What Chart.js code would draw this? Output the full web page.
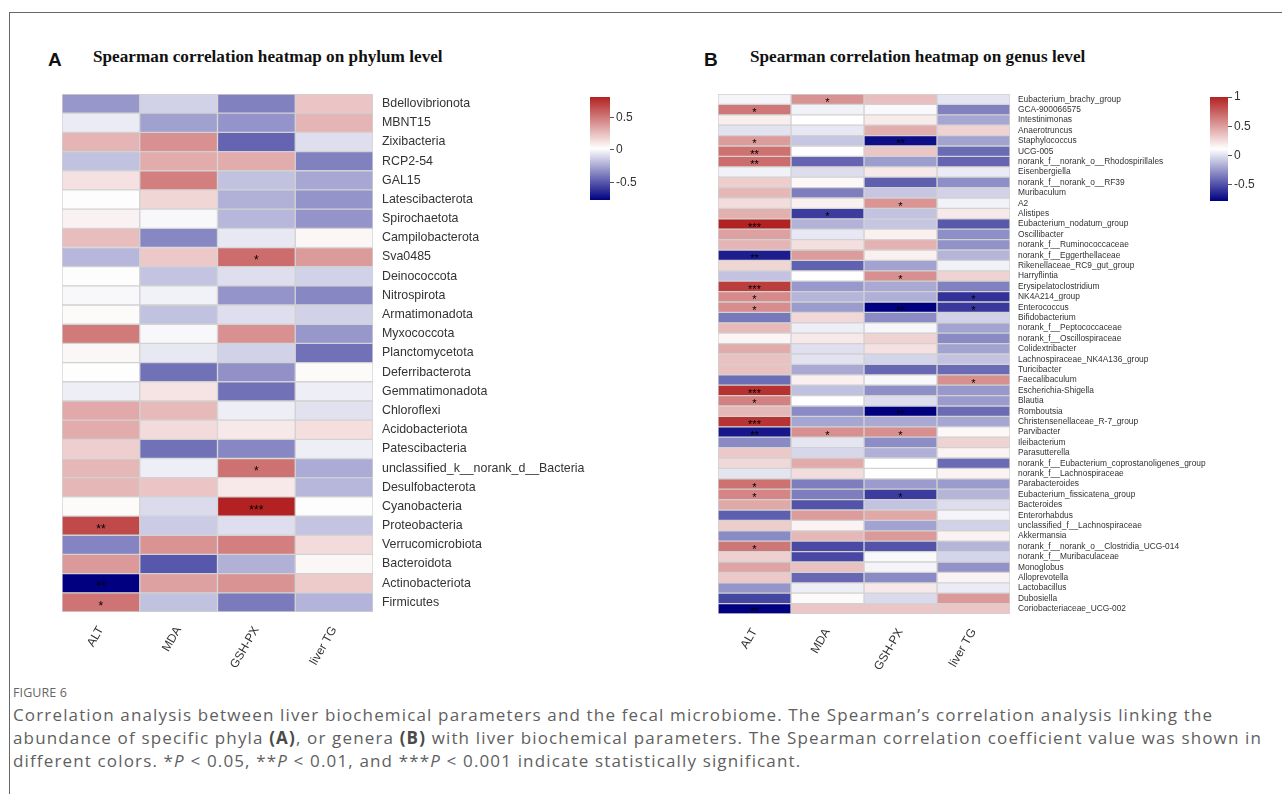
<!DOCTYPE html>
<html>
<head>
<meta charset="utf-8">
<script src="https://cdn.jsdelivr.net/npm/chart.js@4.4.1/dist/chart.umd.min.js"></script>
<style>
  body { margin: 0; background: #fff; }
  #page { position: relative; width: 1282px; height: 794px; overflow: hidden; background: #fff; }
  .frame { position: absolute; left: 9px; top: 12px; width: 1273px; height: 782px; border-top: 1px solid #666; border-left: 1px solid #666; }
  .box { position: absolute; }
  .letter { position: absolute; font: bold 19px "Liberation Sans", Arial, sans-serif; color: #111; }
  .title { position: absolute; font: bold 17.2px "Liberation Serif", "Times New Roman", serif; color: #111; }
  .figno { position: absolute; left: 13px; top: 684px; font: 12.5px "Open Sans", sans-serif; color: #666; letter-spacing: 0.1px; }
  .caption { position: absolute; left: 13px; top: 703px; width: 1265px; font: 17px/23px "Open Sans", sans-serif; color: #5f5f5f; letter-spacing: 1.15px; white-space: nowrap; }
  .caption b { color: #4a4a4a; }
</style>
</head>
<body>
<div id="page">
  <div class="frame"></div>

  <div class="letter" style="left:48px;top:49px">A</div>
  <div class="title" style="left:93px;top:47px">Spearman correlation heatmap on phylum level</div>
  <div class="letter" style="left:704px;top:49px">B</div>
  <div class="title" style="left:750px;top:47px">Spearman correlation heatmap on genus level</div>

  <div class="box" style="left:52px;top:74px;width:551px;height:608px"><canvas id="phylumChart"></canvas></div>
  <div class="box" style="left:590px;top:87px;width:60px;height:123px"><canvas id="phylumBar"></canvas></div>
  <div class="box" style="left:708px;top:74px;width:502px;height:610px"><canvas id="genusChart"></canvas></div>
  <div class="box" style="left:1210px;top:87px;width:58px;height:124px"><canvas id="genusBar"></canvas></div>

  <div class="figno">FIGURE 6</div>
  <div class="caption">Correlation analysis between liver biochemical parameters and the fecal microbiome. The Spearman’s correlation analysis linking the<br>abundance of specific phyla <b>(A)</b>, or genera <b>(B)</b> with liver biochemical parameters. The Spearman correlation coefficient value was shown in<br>different colors. *<i>P</i> &lt; 0.05, **<i>P</i> &lt; 0.01, and ***<i>P</i> &lt; 0.001 indicate statistically significant.</div>
</div>

<script>
const traitNames = ['ALT', 'MDA', 'GSH-PX', 'liver TG'];

const phylumNames = ['Bdellovibrionota', 'MBNT15', 'Zixibacteria', 'RCP2-54', 'GAL15', 'Latescibacterota',
  'Spirochaetota', 'Campilobacterota', 'Sva0485', 'Deinococcota', 'Nitrospirota', 'Armatimonadota',
  'Myxococcota', 'Planctomycetota', 'Deferribacterota', 'Gemmatimonadota', 'Chloroflexi', 'Acidobacteriota',
  'Patescibacteria', 'unclassified_k__norank_d__Bacteria', 'Desulfobacterota', 'Cyanobacteria',
  'Proteobacteria', 'Verrucomicrobiota', 'Bacteroidota', 'Actinobacteriota', 'Firmicutes'];

const phylumALT = [-0.30, -0.04, 0.29, -0.17, 0.13, 0.03, 0.07, 0.26, -0.20, 0.03, 0.00, 0.04, 0.50, 0.05,
  0.02, -0.03, 0.33, 0.32, 0.20, 0.28, 0.28, 0.04, 0.67, -0.36, 0.39, -0.77, 0.52];
const phylumMDA = [-0.12, -0.27, 0.42, 0.32, 0.48, 0.17, 0.00, -0.35, 0.22, -0.16, -0.02, -0.17, 0.00, -0.05,
  -0.42, 0.12, 0.27, 0.15, -0.42, -0.03, 0.23, -0.09, -0.14, 0.41, -0.50, 0.36, -0.17];
const phylumGSH = [-0.37, -0.31, -0.46, 0.32, -0.17, -0.22, -0.20, -0.05, 0.55, -0.08, -0.31, -0.08, 0.42, -0.12,
  -0.32, -0.42, -0.03, 0.10, -0.35, 0.53, 0.10, 0.815, -0.08, 0.48, -0.22, 0.41, -0.39];
const phylumTG = [0.23, 0.29, -0.08, -0.37, -0.25, -0.31, -0.31, 0.05, 0.38, -0.12, -0.35, -0.12, -0.30, -0.42,
  0.04, -0.03, -0.07, 0.14, -0.03, -0.24, -0.20, 0.03, -0.16, 0.15, 0.05, 0.21, -0.21];

// number of stars per cell
const phylumSigALT = [0,0,0,0,0,0,0,0,0,0, 0,0,0,0,0,0,0,0,0,0, 0,0,2,0,0,2,1];
const phylumSigMDA = [0,0,0,0,0,0,0,0,0,0, 0,0,0,0,0,0,0,0,0,0, 0,0,0,0,0,0,0];
const phylumSigGSH = [0,0,0,0,0,0,0,0,1,0, 0,0,0,0,0,0,0,0,0,1, 0,3,0,0,0,0,0];
const phylumSigTG  = [0,0,0,0,0,0,0,0,0,0, 0,0,0,0,0,0,0,0,0,0, 0,0,0,0,0,0,0];

const genusNames = ['Eubacterium_brachy_group', 'GCA-900066575', 'Intestinimonas', 'Anaerotruncus',
  'Staphylococcus', 'UCG-005', 'norank_f__norank_o__Rhodospirillales', 'Eisenbergiella',
  'norank_f__norank_o__RF39', 'Muribaculum', 'A2', 'Alistipes', 'Eubacterium_nodatum_group', 'Oscillibacter',
  'norank_f__Ruminococcaceae', 'norank_f__Eggerthellaceae', 'Rikenellaceae_RC9_gut_group', 'Harryflintia',
  'Erysipelatoclostridium', 'NK4A214_group', 'Enterococcus', 'Bifidobacterium', 'norank_f__Peptococcaceae',
  'norank_f__Oscillospiraceae', 'Colidextribacter', 'Lachnospiraceae_NK4A136_group', 'Turicibacter',
  'Faecalibaculum', 'Escherichia-Shigella', 'Blautia', 'Romboutsia', 'Christensenellaceae_R-7_group',
  'Parvibacter', 'Ileibacterium', 'Parasutterella', 'norank_f__Eubacterium_coprostanoligenes_group',
  'norank_f__Lachnospiraceae', 'Parabacteroides', 'Eubacterium_fissicatena_group', 'Bacteroides',
  'Enterorhabdus', 'unclassified_f__Lachnospiraceae', 'Akkermansia', 'norank_f__norank_o__Clostridia_UCG-014',
  'norank_f__Muribaculaceae', 'Monoglobus', 'Alloprevotella', 'Lactobacillus', 'Dubosiella',
  'Coriobacteriaceae_UCG-002'];

const genusALT = [0.07, 0.66, 0.18, 0.01, 0.51, 0.68, 0.70, 0.06, 0.31, 0.40, 0.25, 0.43, 1.00, 0.49, 0.41,
  -0.68, 0.28, -0.10, 0.89, 0.58, 0.57, -0.36, 0.39, 0.15, 0.45, 0.36, 0.36, -0.40, 0.94, 0.62, 0.40, 0.93,
  -0.70, -0.30, 0.33, 0.27, 0.02, 0.68, 0.60, 0.46, -0.45, 0.31, -0.30, 0.66, 0.30, 0.48, 0.33, -0.26, -0.54, -0.78];
const genusMDA = [0.55, 0.06, 0.11, 0.03, -0.09, 0.11, -0.43, -0.01, 0.14, -0.34, 0.17, -0.57, -0.16, 0.03, 0.24,
  0.51, -0.44, 0.11, -0.25, -0.15, -0.24, 0.27, 0.05, 0.20, 0.00, 0.01, -0.19, 0.17, -0.11, 0.11, -0.30, -0.20,
  0.56, 0.02, -0.03, 0.45, 0.25, -0.34, -0.34, -0.49, 0.51, 0.16, 0.40, -0.52, -0.53, 0.36, -0.42, 0.05, 0.13, 0.34];
const genusGSH = [0.37, 0.09, 0.19, 0.44, -0.73, 0.34, -0.23, 0.20, -0.45, -0.09, 0.54, -0.10, -0.09, 0.17, 0.42,
  0.17, -0.21, 0.56, -0.19, -0.17, -0.78, -0.30, 0.08, 0.29, 0.23, -0.04, -0.42, 0.09, -0.28, -0.01, -0.78, -0.19,
  0.56, -0.29, -0.17, 0.11, 0.11, -0.24, -0.57, -0.10, 0.46, -0.21, 0.52, -0.49, 0.09, 0.07, -0.30, 0.20, -0.02, 0.34];
const genusTG = [0.02, -0.33, -0.20, 0.29, -0.21, -0.41, -0.43, 0.04, -0.28, -0.05, 0.06, 0.20, -0.47, -0.28, -0.27,
  -0.15, 0.06, 0.29, -0.33, -0.61, -0.58, -0.05, -0.21, -0.30, -0.21, -0.10, -0.41, 0.56, -0.25, -0.24, -0.41, -0.20,
  0.14, 0.29, 0.16, -0.41, 0.16, -0.24, -0.15, -0.01, 0.07, -0.05, 0.16, -0.15, -0.04, -0.27, 0.16, 0.04, 0.52, 0.34];

const genusSigALT = [0,1,0,0,1,2,2,0,0,0, 0,0,3,0,0,2,0,0,3,1, 1,0,0,0,0,0,0,0,3,1, 0,3,2,0,0,0,0,1,1,0, 0,0,0,1,0,0,0,0,0,2];
const genusSigMDA = [1,0,0,0,0,0,0,0,0,0, 0,1,0,0,0,0,0,0,0,0, 0,0,0,0,0,0,0,0,0,0, 0,0,1,0,0,0,0,0,0,0, 0,0,0,0,0,0,0,0,0,0];
const genusSigGSH = [0,0,0,0,2,0,0,0,0,0, 1,0,0,0,0,0,0,1,0,0, 2,0,0,0,0,0,0,0,0,0, 2,0,1,0,0,0,0,0,1,0, 0,0,0,0,0,0,0,0,0,0];
const genusSigTG  = [0,0,0,0,0,0,0,0,0,0, 0,0,0,0,0,0,0,0,0,1, 1,0,0,0,0,0,0,1,0,0, 0,0,0,0,0,0,0,0,0,0, 0,0,0,0,0,0,0,0,0,0];

// colour scale limits and legend ticks
const phylumRange = [-0.77, 0.815];
const genusRange = [-0.78, 1.0];
const phylumTicks = [0.5, 0, -0.5];
const genusTicks = [1, 0.5, 0, -0.5];

Chart.defaults.font.family = '"Liberation Sans", Arial, sans-serif';

const NAVY = [0, 0, 128], WHITE = [255, 255, 255], RED = [178, 34, 34];

function cellColor(v, lo, hi) {
  let t = Math.min(1, Math.max(0, (v - lo) / (hi - lo)));
  let a, b, f;
  if (t < 0.5) { a = NAVY; b = WHITE; f = t / 0.5; }
  else { a = WHITE; b = RED; f = (t - 0.5) / 0.5; }
  const c = a.map((x, k) => Math.round(x + (b[k] - x) * f));
  return `rgb(${c[0]},${c[1]},${c[2]})`;
}

function heatmap(id, rows, values, sigs, range, opt) {
  const starPlugin = {
    id: 'stars',
    afterDatasetsDraw(chart) {
      const c = chart.ctx;
      c.save();
      c.fillStyle = '#000';
      c.font = opt.starSize + 'px "Liberation Sans", Arial, sans-serif';
      c.textAlign = 'center';
      c.textBaseline = 'alphabetic';
      chart.data.datasets.forEach((ds, j) => {
        chart.getDatasetMeta(j).data.forEach((el, i) => {
          const n = sigs[j][i];
          if (!n) return;
          const p = el.getProps(['x', 'base', 'y'], true);
          c.fillText('*'.repeat(n), (p.x + p.base) / 2, p.y + opt.starSize * 0.6);
        });
      });
      c.restore();
    }
  };

  new Chart(document.getElementById(id), {
    type: 'bar',
    data: {
      labels: rows,
      datasets: values.map((vals, j) => ({
        data: rows.map(() => [j, j + 1]),
        backgroundColor: vals.map(v => cellColor(v, range[0], range[1])),
        borderColor: '#d2d2d2',
        borderWidth: 1,
        borderSkipped: false,
        barPercentage: 1,
        categoryPercentage: 1,
        grouped: false
      }))
    },
    options: {
      indexAxis: 'y',
      responsive: true,
      maintainAspectRatio: false,
      animation: false,
      layout: { padding: { left: 10, top: 20 } },
      plugins: { legend: { display: false }, tooltip: { enabled: false } },
      scales: {
        x: {
          type: 'linear', min: 0, max: 4,
          afterBuildTicks(s) { s.ticks = traitNames.map((_, k) => ({ value: k + 0.5 })); },
          afterFit(s) { s.height = 70; },
          ticks: {
            autoSkip: false, minRotation: 60, maxRotation: 60, padding: 12,
            color: '#333', font: { size: 12 },
            callback: (v, i) => traitNames[i]
          },
          grid: { display: false, drawTicks: false },
          border: { display: false }
        },
        y: {
          position: 'right',
          afterFit(s) { s.width = opt.labelWidth; },
          ticks: { autoSkip: false, padding: opt.labelPad, color: '#333', font: { size: opt.labelSize } },
          grid: { display: false, drawTicks: false },
          border: { display: false }
        }
      }
    },
    plugins: [starPlugin]
  });
}

function colorbar(id, range, ticks) {
  new Chart(document.getElementById(id), {
    type: 'bar',
    data: {
      labels: [''],
      datasets: [{
        data: [range],
        backgroundColor(ctx) {
          const ca = ctx.chart.chartArea;
          if (!ca) return '#fff';
          const g = ctx.chart.ctx.createLinearGradient(0, ca.bottom, 0, ca.top);
          g.addColorStop(0, 'rgb(0,0,128)');
          g.addColorStop(0.5, '#ffffff');
          g.addColorStop(1, 'rgb(178,34,34)');
          return g;
        },
        borderWidth: 0,
        barPercentage: 1,
        categoryPercentage: 1
      }]
    },
    options: {
      responsive: true,
      maintainAspectRatio: false,
      animation: false,
      layout: { padding: { top: 10, bottom: 10 } },
      plugins: { legend: { display: false }, tooltip: { enabled: false } },
      scales: {
        x: { display: false },
        y: {
          position: 'right', min: range[0], max: range[1],
          afterBuildTicks(s) { s.ticks = ticks.map(v => ({ value: v })); },
          afterFit(s) { s.width = 40; },
          ticks: { padding: 2, color: '#333', font: { size: 12 }, callback: v => String(v) },
          grid: { drawOnChartArea: false, tickLength: 4, color: '#555' },
          border: { display: false }
        }
      }
    }
  });
}

heatmap('phylumChart', phylumNames, [phylumALT, phylumMDA, phylumGSH, phylumTG],
  [phylumSigALT, phylumSigMDA, phylumSigGSH, phylumSigTG], phylumRange,
  { labelWidth: 230, labelPad: 9, labelSize: 12.4, starSize: 12 });

heatmap('genusChart', genusNames, [genusALT, genusMDA, genusGSH, genusTG],
  [genusSigALT, genusSigMDA, genusSigGSH, genusSigTG], genusRange,
  { labelWidth: 200, labelPad: 8, labelSize: 8.4, starSize: 11 });

colorbar('phylumBar', phylumRange, phylumTicks);
colorbar('genusBar', genusRange, genusTicks);
</script>
</body>
</html>
